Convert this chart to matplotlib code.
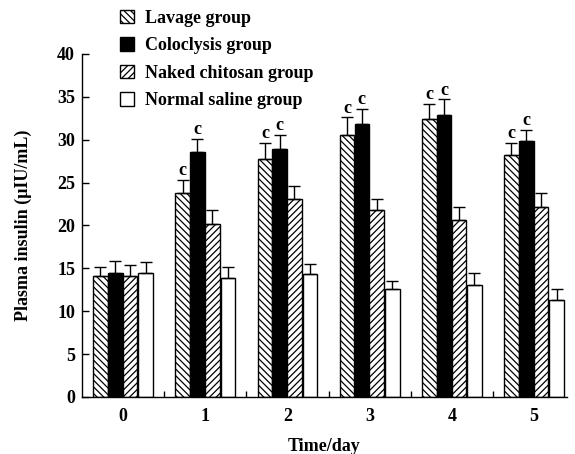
import matplotlib
matplotlib.use("Agg")
import matplotlib.pyplot as plt
import numpy as np

days = ["0", "1", "2", "3", "4", "5"]
groups = ["Lavage group", "Coloclysis group", "Naked chitosan group", "Normal saline group"]
lavage = [14.1, 23.8, 27.8, 30.6, 32.4, 28.2]
lavage_err = [1.1, 1.5, 1.8, 2.0, 1.8, 1.4]
coloclysis = [14.4, 28.6, 28.9, 31.8, 32.9, 29.9]
coloclysis_err = [1.5, 1.5, 1.7, 1.8, 1.8, 1.2]
naked = [14.1, 20.2, 23.1, 21.8, 20.6, 22.2]
naked_err = [1.3, 1.6, 1.5, 1.3, 1.6, 1.6]
saline = [14.4, 13.9, 14.3, 12.6, 13.1, 11.3]
saline_err = [1.3, 1.2, 1.2, 0.9, 1.3, 1.3]
sig_lavage = ["", "c", "c", "c", "c", "c"]
sig_coloclysis = ["", "c", "c", "c", "c", "c"]

plt.rcParams['font.family'] = ['Liberation Serif', 'DejaVu Serif']
plt.rcParams['font.weight'] = 'bold'
plt.rcParams['hatch.linewidth'] = 0.9

fig = plt.figure(figsize=(5.75, 4.54), dpi=100)
ax = fig.add_axes([0.1426, 0.1256, 0.8434, 0.7555])

x = np.arange(len(days))
w = 0.178
offsets = [-0.275, -0.095, 0.085, 0.275]
series = [lavage, coloclysis, naked, saline]
errs = [lavage_err, coloclysis_err, naked_err, saline_err]
faces = ['white', 'black', 'white', 'white']
hatches = ['\\\\\\\\\\', None, '/////', None]

for vals, e, off, fc, h, lab in zip(series, errs, offsets, faces, hatches, groups):
    ax.bar(x + off, vals, w, color=fc, edgecolor='black', linewidth=1.0,
           hatch=h, label=lab, zorder=2)
    ax.errorbar(x + off, vals, yerr=[np.zeros(len(vals)), e], fmt='none',
                ecolor='black', elinewidth=1.0, capsize=4, capthick=1.0, zorder=3)

for vals, e, off, sig in [(lavage, lavage_err, offsets[0], sig_lavage),
                          (coloclysis, coloclysis_err, offsets[1], sig_coloclysis)]:
    for xi, v, ei, s in zip(x, vals, e, sig):
        if s:
            ax.text(xi + off, v + ei + 0.1, s, ha='center', va='bottom',
                    fontsize=13, fontweight='bold')

ax.set_xlim(-0.5, 5.4)
ax.set_ylim(0, 40)
ax.set_yticks(np.arange(0, 41, 5))
ax.set_xticks(x)
ax.set_xticklabels(days)
ax.set_xticks(np.arange(0.5, 5, 1), minor=True)
ax.tick_params(axis='x', which='major', length=0, pad=8, labelsize=13)
ax.tick_params(axis='x', which='minor', direction='in', length=4, width=1)
ax.tick_params(axis='y', direction='in', length=5, width=1, labelsize=13, pad=5)
for lbl in ax.get_xticklabels() + ax.get_yticklabels():
    lbl.set_fontweight('bold')
for sp in ['top', 'right']:
    ax.spines[sp].set_visible(False)
for sp in ['left', 'bottom']:
    ax.spines[sp].set_linewidth(1.0)

ax.set_xlabel("Time/day", fontsize=13, fontweight='bold', labelpad=9)
ax.set_ylabel("Plasma insulin (μIU/mL)", fontsize=13, fontweight='bold', labelpad=18)

handles, labels = ax.get_legend_handles_labels()
leg = fig.legend(handles, labels, loc='upper left', bbox_to_anchor=(0.192, 1.0),
                 frameon=False, fontsize=13, handlelength=0.75, handleheight=0.75,
                 handletextpad=0.6, labelspacing=0.58, borderaxespad=0.15)
for t in leg.get_texts():
    t.set_fontweight('bold')

fig.savefig("out.png", dpi=100)
